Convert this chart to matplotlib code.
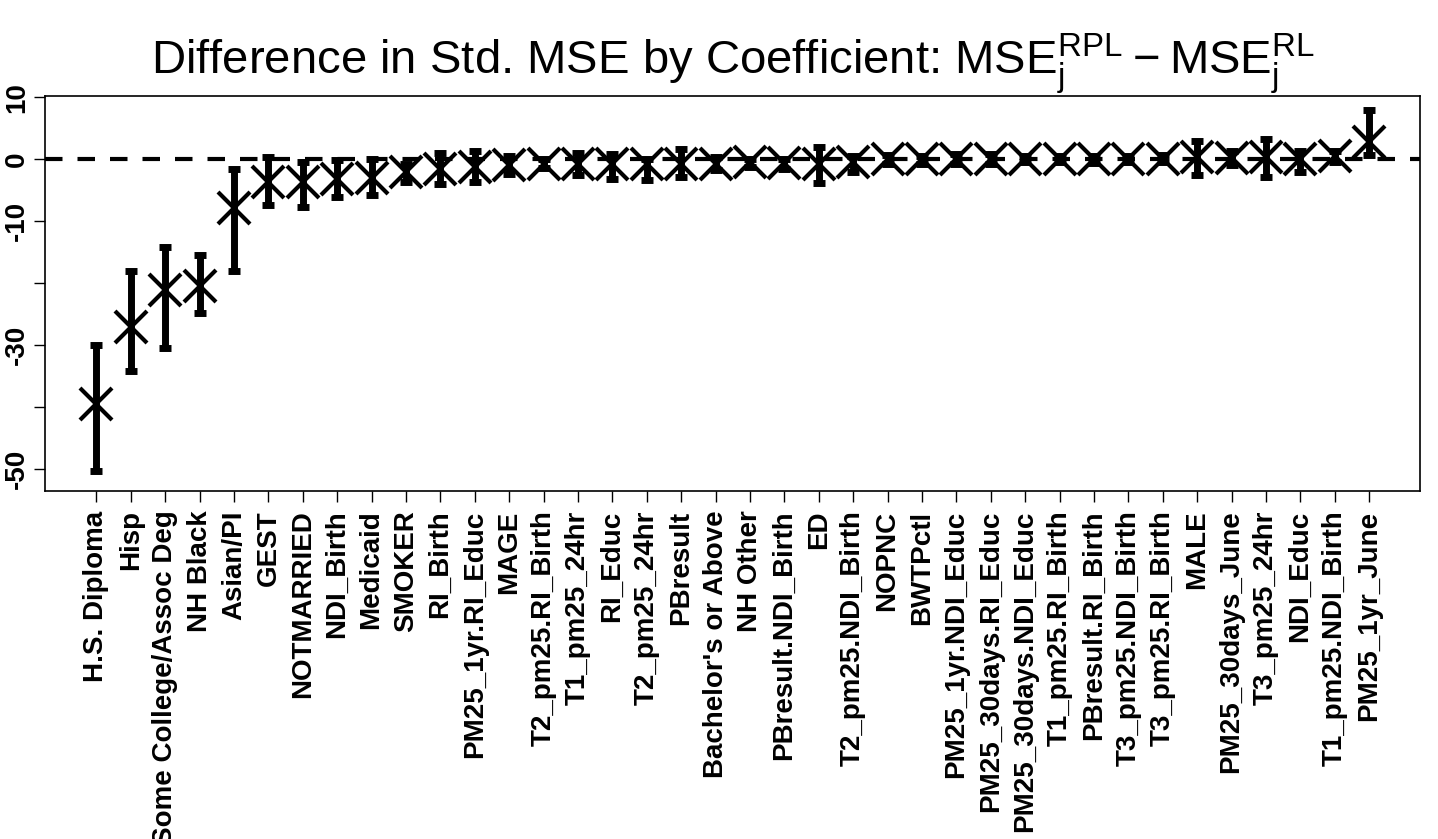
import matplotlib
matplotlib.use("Agg")
import matplotlib.pyplot as plt
import numpy as np

plt.rcParams['font.family'] = ['Liberation Sans', 'DejaVu Sans']
plt.rcParams['mathtext.fontset'] = 'custom'
plt.rcParams['mathtext.rm'] = 'Liberation Sans'

# coefficient names, in plotted order
coefs = ["H.S. Diploma", "Hisp", "Some College/Assoc Deg", "NH Black", "Asian/PI",
         "GEST", "NOTMARRIED", "NDI_Birth", "Medicaid", "SMOKER", "RI_Birth",
         "PM25_1yr.RI_Educ", "MAGE", "T2_pm25.RI_Birth", "T1_pm25_24hr", "RI_Educ",
         "T2_pm25_24hr", "PBresult", "Bachelor's or Above", "NH Other",
         "PBresult.NDI_Birth", "ED", "T2_pm25.NDI_Birth", "NOPNC", "BWTPctl",
         "PM25_1yr.NDI_Educ", "PM25_30days.RI_Educ", "PM25_30days.NDI_Educ",
         "T1_pm25.RI_Birth", "PBresult.RI_Birth", "T3_pm25.NDI_Birth",
         "T3_pm25.RI_Birth", "MALE", "PM25_30days_June", "T3_pm25_24hr",
         "NDI_Educ", "T1_pm25.NDI_Birth", "PM25_1yr_June"]

# estimated difference and interval ends
diff = [-39.5, -27.0, -21.1, -20.5, -7.9, -3.7, -3.6, -3.2, -3.0, -2.0, -1.5,
        -1.2, -1.0, -0.8, -0.8, -0.8, -0.8, -0.7, -0.7, -0.4, -0.6, -0.7, -0.4,
        0.0, 0.0, 0.1, 0.1, 0.0, 0.0, 0.0, 0.0, 0.1, 0.3, 0.2, 0.3, 0.0, 0.6, 2.8]
lower = [-50.3, -34.2, -30.4, -24.8, -18.0, -7.4, -7.7, -6.1, -5.8, -3.6, -4.0,
         -3.7, -2.3, -1.4, -2.6, -3.2, -3.4, -2.8, -1.8, -1.2, -1.5, -3.9, -2.0,
         -0.8, -0.8, -0.7, -0.8, -0.5, -0.5, -0.6, -0.5, -0.5, -2.6, -1.0, -2.8,
         -2.0, -0.4, 0.7]
upper = [-29.9, -18.1, -14.1, -15.5, -1.6, 0.4, -0.4, -0.2, 0.1, -0.8, 1.0,
         1.3, 0.6, 0.0, 1.0, 0.9, 0.1, 1.7, 0.4, 0.0, 0.1, 2.0, 0.6,
         0.7, 0.6, 0.9, 0.8, 0.5, 0.5, 0.6, 0.5, 0.7, 3.0, 1.4, 3.3,
         1.4, 1.4, 7.9]

ytick_vals = [10, 0, -10, -20, -30, -40, -50]
ytick_labels = ["10", "0", "-10", "", "-30", "", "-50"]

x = np.arange(1, len(coefs) + 1)
diff = np.array(diff)
lower = np.array(lower)
upper = np.array(upper)

fig = plt.figure(figsize=(14.38, 8.39), dpi=100)
ax = fig.add_axes([45.5 / 1438, 1 - 491 / 839, (1420 - 45.5) / 1438, (491 - 96) / 839])

ax.axhline(0, color='black', lw=3, ls=(0, (4.2, 3.6)), zorder=1)

eb = ax.errorbar(x, diff, yerr=[diff - lower, upper - diff], fmt='none',
                 ecolor='black', elinewidth=5, capsize=4, capthick=5, zorder=2)
for cap in eb[1]:
    cap.set_solid_capstyle('round')

ax.plot(x, diff, 'x', color='black', ms=23, mew=3, zorder=3)

ax.set_xlim(1 - 0.04 * 37, len(coefs) + 0.04 * 37)
ax.set_ylim(-53.5, 10.2)

ax.set_yticks(ytick_vals)
ax.set_yticklabels(ytick_labels, rotation=90, va='center', fontsize=20, fontweight='bold')
ax.set_xticks(x)
ax.set_xticklabels(coefs, rotation=90, fontsize=20, fontweight='bold')
ax.tick_params(axis='both', length=8, width=1, pad=3)
ax.tick_params(axis='x', pad=6)
for sp in ax.spines.values():
    sp.set_linewidth(1.2)

ax.set_title(r"Difference in Std. MSE by Coefficient: $\mathregular{MSE_j^{RPL} - MSE_j^{RL}}$",
             fontsize=34, pad=14)

fig.savefig("out.png", dpi=100)
